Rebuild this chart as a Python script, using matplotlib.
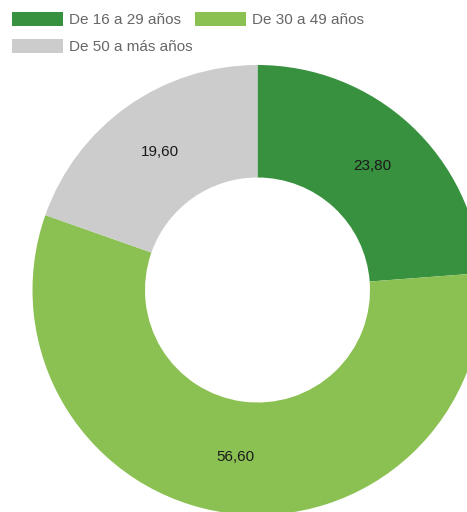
import matplotlib
matplotlib.use("Agg")
import matplotlib.pyplot as plt

categories = ["De 16 a 29 años", "De 30 a 49 años", "De 50 a más años"]
values = [23.80, 56.60, 19.60]
colors = ["#37913f", "#8bc152", "#cccccc"]

plt.rcParams["font.family"] = ["Liberation Sans", "DejaVu Sans"]

W, H = 467, 512
fig = plt.figure(figsize=(W / 100, H / 100), dpi=100)

# donut centre and outer radius in pixels
cx, cy, r = 257.5, 290.0, 225.0
ax = fig.add_axes([(cx - r) / W, (H - cy - r) / H, 2 * r / W, 2 * r / H])

wedges, texts, autotexts = ax.pie(
    values,
    colors=colors,
    startangle=90,
    counterclock=False,
    radius=1.0,
    wedgeprops=dict(width=0.5, linewidth=0),
    autopct=lambda p: f"{p:.2f}".replace(".", ","),
    pctdistance=0.75,
    textprops=dict(fontsize=11, color="#1a1a1a"),
)
ax.set_xlim(-1, 1)
ax.set_ylim(-1, 1)
ax.axis("off")
for w in wedges:
    w.set_clip_on(False)

# legend filled row by row: two entries on the first line, one below
order = [0, 2, 1]
leg = fig.legend(
    [wedges[i] for i in order],
    [categories[i] for i in order],
    loc="upper left",
    bbox_to_anchor=(-2 / W, 1 + 2 / H),
    ncol=2,
    frameon=False,
    fontsize=11,
    handlelength=3.35,
    handleheight=1.1,
    handletextpad=0.4,
    columnspacing=0.15,
    labelspacing=0.75,
    labelcolor="#666666",
)

fig.savefig("out.png", dpi=100)
